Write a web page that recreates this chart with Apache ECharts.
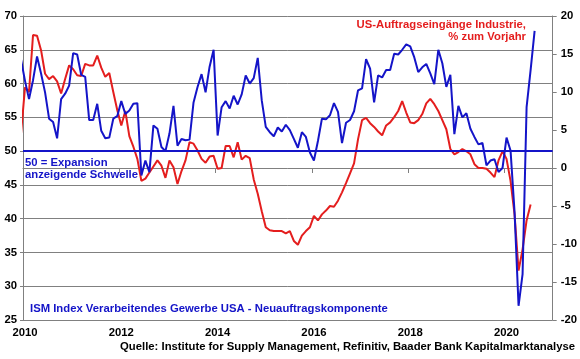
<!DOCTYPE html>
<html>
<head>
<meta charset="utf-8">
<script src="https://cdn.jsdelivr.net/npm/echarts@6/dist/echarts.min.js"></script>
<style>
html,body{margin:0;padding:0;background:#fff;}
#chart{width:580px;height:359px;}
</style>
</head>
<body>
<div id="chart"></div>
<script>
// ---- data (monthly, first value = Dec 2009) ----
const startYear = 2009;
const startMonth = 12;

// ISM Index Verarbeitendes Gewerbe USA - Neuauftragskomponente (left axis)
const ismNewOrders = [
  63.6,
  60.4, 57.7, 60.5, 64.0, 61.5, 58.7, 54.8, 54.3, 51.9, 57.7, 58.5, 59.7,
  64.5, 64.3, 61.3, 61.0, 54.6, 54.6, 57.0, 53.0, 51.9, 52.0, 54.8, 55.2,
  57.4, 55.5, 56.0, 57.0, 57.1, 46.4, 48.6, 46.9, 53.8, 53.3, 50.6, 50.0,
  52.6, 56.7, 50.8, 51.8, 51.6, 51.7, 57.2, 59.5, 61.4, 58.7, 62.5, 65.0,
  52.3, 56.5, 57.4, 56.3, 58.2, 56.9, 58.4, 61.2, 60.0, 60.8, 63.8, 57.5,
  53.6, 52.8, 52.2, 53.5, 52.9, 53.9, 53.1, 51.8, 50.5, 52.8, 52.1, 49.8,
  48.6, 51.5, 54.8, 54.7, 55.3, 57.1, 55.8, 51.2, 54.2, 54.6, 55.9, 59.0,
  59.3, 63.6, 62.2, 57.2, 61.2, 60.9, 62.0, 62.0, 64.4, 64.3, 65.0, 65.8,
  65.5, 63.9, 61.7, 62.4, 62.9, 61.5, 59.9, 65.0, 63.0, 59.5, 61.3, 52.5,
  56.7, 55.0, 55.6, 53.3, 52.1, 51.0, 51.2, 47.9, 48.6, 48.8, 46.9, 47.5,
  52.0, 50.1, 41.0, 27.1, 31.8, 56.5, 62.0, 67.8
];

// US-Auftragseingänge Industrie, % zum Vorjahr (right axis)
const factoryOrdersYoY = [
  4.5,
  10.6, 10.0, 17.5, 17.4, 15.5, 12.4, 11.7, 12.1, 11.4, 9.8, 11.7, 13.5,
  13.0, 12.2, 12.1, 13.7, 13.5, 13.5, 14.8, 13.2, 12.0, 12.5, 10.0, 7.6,
  5.6, 7.5, 4.2, 2.8, 1.2, -1.7, -1.4, -0.6, 0.2, 1.0, 0.3, -1.3,
  1.0, 0.1, -2.1, -0.4, 1.0, 3.4, 3.2, 2.3, 1.2, 0.7, 1.5, 1.6,
  -0.1, 0.0, 2.9, 2.9, 1.4, 3.4, 1.1, 1.6, 1.3, -1.5, -3.4, -5.7,
  -7.8, -8.2, -8.3, -8.3, -8.3, -8.6, -8.3, -9.6, -10.1, -8.9, -8.3, -7.8,
  -6.3, -6.9, -6.1, -5.6, -5.0, -5.1, -4.3, -3.2, -2.0, -0.7, 0.6, 3.8,
  6.3, 6.6, 5.9, 5.4, 4.8, 4.3, 5.6, 6.0, 6.7, 7.5, 8.8, 7.3,
  6.0, 5.9, 6.3, 7.1, 8.5, 9.1, 8.4, 7.5, 6.3, 5.1, 2.5, 1.8,
  2.1, 2.5, 2.2, 1.8, 0.5, 0.0, 0.0, -0.1, -0.6, -1.2, 1.0, 2.2,
  1.2, -1.7, -6.1, -13.5, -10.7, -6.9, -4.8
];

const xTickYears = [2010, 2012, 2014, 2016, 2018, 2020];
const thresholdValue = 50;

// month categories as decimal years (mid-month)
const monthLabels = ismNewOrders.map((_, i) => {
  const m = startMonth - 1 + i;
  const y = startYear + Math.floor(m / 12);
  const mm = (m % 12) + 1;
  return y + '-' + (mm < 10 ? '0' + mm : mm);
});
function monthToYear(label) {
  const [y, m] = label.split('-').map(Number);
  return y + (m - 0.5) / 12;
}

const BLUE = '#1414c8';
const RED = '#e41e1e';
const GRID = '#808080';
const FONT = '"Liberation Sans", Arial, sans-serif';
const FS = 11.3;

const chart = echarts.init(document.getElementById('chart'), null, {renderer: 'canvas'});

const labelStyle = {color: '#000', fontWeight: 'bold', fontSize: FS, fontFamily: FONT};

const option = {
  animation: false,
  backgroundColor: '#fff',
  grid: {left: 23, right: 27, top: 16, bottom: 39, containLabel: false},
  xAxis: {
    type: 'value', min: 2010, max: 2021, interval: 2,
    axisLine: {show: true, lineStyle: {color: GRID, width: 1}},
    axisTick: {show: true, length: 5, lineStyle: {color: GRID}, customValues: xTickYears},
    axisLabel: Object.assign({margin: 7, padding: [0, 0, 0, 4], customValues: xTickYears,
      formatter: v => String(Math.round(v))}, labelStyle),
    splitLine: {show: false}
  },
  yAxis: [
    {
      type: 'value', min: 25, max: 70, interval: 5, position: 'left',
      axisLine: {show: true, lineStyle: {color: GRID}},
      axisTick: {show: true, length: 3, lineStyle: {color: GRID}},
      axisLabel: Object.assign({margin: 6}, labelStyle),
      splitLine: {show: true, lineStyle: {color: GRID, width: 1}}
    },
    {
      type: 'value', min: -20, max: 20, interval: 5, position: 'right',
      axisLine: {show: true, lineStyle: {color: GRID}},
      axisTick: {show: true, length: 4, lineStyle: {color: GRID}},
      axisLabel: Object.assign({margin: 8}, labelStyle),
      splitLine: {show: false}
    }
  ],
  series: [
    {
      name: 'US-Auftragseingänge Industrie, % zum Vorjahr',
      type: 'line', yAxisIndex: 1, showSymbol: false, clip: true,
      data: factoryOrdersYoY.map((v, i) => [monthToYear(monthLabels[i]), v]),
      lineStyle: {color: RED, width: 2}, itemStyle: {color: RED}
    },
    {
      name: 'ISM Index Verarbeitendes Gewerbe USA - Neuauftragskomponente',
      type: 'line', yAxisIndex: 0, showSymbol: false, clip: true,
      data: ismNewOrders.map((v, i) => [monthToYear(monthLabels[i]), v]),
      lineStyle: {color: BLUE, width: 2}, itemStyle: {color: BLUE},
      markLine: {
        silent: true, symbol: 'none', label: {show: false},
        lineStyle: {color: BLUE, width: 2, type: 'solid'},
        data: [{yAxis: thresholdValue}]
      }
    }
  ],
  graphic: [
    {type: 'text', x: 526, y: 25, style: {text: 'US-Auftragseingänge Industrie,', fill: RED,
      font: 'bold ' + FS + 'px ' + FONT, align: 'right', verticalAlign: 'middle'}},
    {type: 'text', x: 526, y: 37, style: {text: '% zum Vorjahr', fill: RED,
      font: 'bold ' + FS + 'px ' + FONT, align: 'right', verticalAlign: 'middle'}},
    {type: 'text', x: 25, y: 163, style: {text: '50 = Expansion', fill: BLUE,
      font: 'bold ' + FS + 'px ' + FONT, align: 'left', verticalAlign: 'middle'}},
    {type: 'text', x: 25, y: 175, style: {text: 'anzeigende Schwelle', fill: BLUE,
      font: 'bold ' + FS + 'px ' + FONT, align: 'left', verticalAlign: 'middle'}},
    {type: 'text', x: 30, y: 309, style: {text: 'ISM Index Verarbeitendes Gewerbe USA - Neuauftragskomponente', fill: BLUE,
      font: 'bold ' + FS + 'px ' + FONT, align: 'left', verticalAlign: 'middle'}},
    {type: 'text', x: 575, y: 347, style: {text: 'Quelle: Institute for Supply Management, Refinitiv, Baader Bank Kapitalmarktanalyse', fill: '#000',
      font: 'bold ' + FS + 'px ' + FONT, align: 'right', verticalAlign: 'middle'}}
  ]
};
chart.setOption(option);
</script>
</body>
</html>
